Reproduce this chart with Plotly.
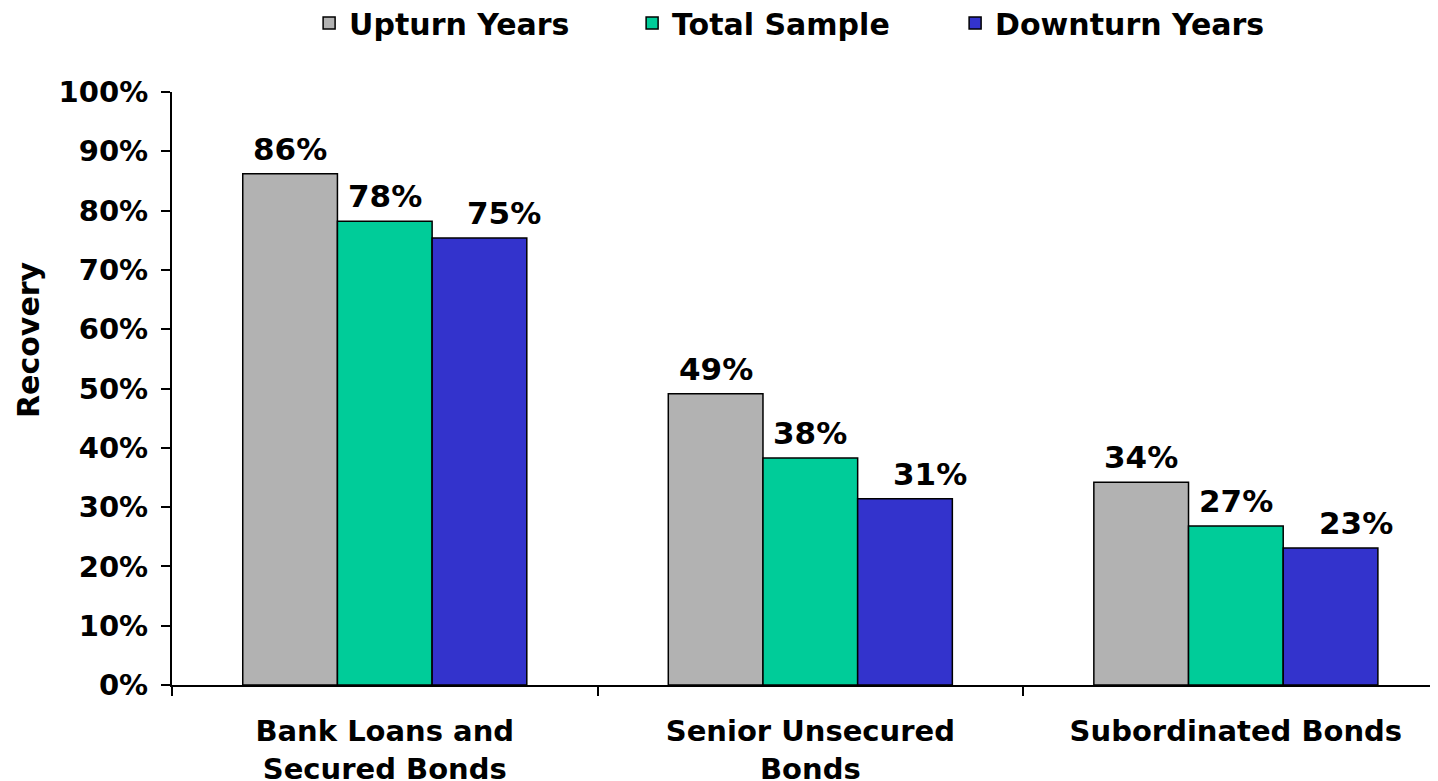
import plotly.graph_objects as go

# data
categories = ["Bank Loans and<br>Secured Bonds", "Senior Unsecured<br>Bonds", "Subordinated Bonds"]
upturn = [0.862, 0.491, 0.342]
total = [0.782, 0.383, 0.268]
downturn = [0.754, 0.314, 0.231]
series_names = ["Upturn Years", "Total Sample", "Downturn Years"]
y_ticks = [0, 0.1, 0.2, 0.3, 0.4, 0.5, 0.6, 0.7, 0.8, 0.9, 1.0]
y_ticklabels = ["0%", "10%", "20%", "30%", "40%", "50%", "60%", "70%", "80%", "90%", "100%"]

colors = ["#B2B2B2", "#00CC99", "#3333CC"]
font_family = "DejaVu Sans"

bargap = 0.3325
bar_w = (1 - bargap) / 3

# page body has an 8px margin, so the figure is drawn 8px in from the corner
W, H = 1430, 773
ml, mt, mb = 164, 84, 96
plot_h = H - mt - mb

fig = go.Figure()
for name, vals, col in zip(series_names, [upturn, total, downturn], colors):
    fig.add_trace(go.Bar(
        x=categories, y=vals, name=f"<b>{name}</b>",
        marker=dict(color=col, line=dict(color="black", width=1.5)),
        hoverinfo="skip",
    ))

# value labels (downturn labels sit a bit to the right, as in the original)
for i, vals in enumerate([upturn, total, downturn]):
    offset = (i - 1) * bar_w
    xshift = 25 if i == 2 else 0
    for j, v in enumerate(vals):
        fig.add_annotation(
            x=j + offset, y=v, xref="x", yref="y",
            text=f"<b>{round(v * 100)}%</b>", showarrow=False,
            yanchor="middle", yshift=25, xshift=xshift,
            font=dict(family=font_family, size=31, color="black"),
        )

fig.add_annotation(
    xref="paper", yref="paper",
    x=(20 - ml) / (W - ml), y=(677 - 332) / plot_h,
    xanchor="center", yanchor="middle",
    text="<b>Recovery</b>", showarrow=False, textangle=-90,
    font=dict(family=font_family, size=30, color="black"),
)

fig.update_layout(
    width=W, height=H,
    template="simple_white",
    plot_bgcolor="white", paper_bgcolor="white",
    barmode="group", bargap=bargap, bargroupgap=0,
    margin=dict(l=ml, r=0, t=mt, b=mb, autoexpand=False),
    font=dict(family=font_family, color="black"),
    legend=dict(
        orientation="h", x=0.491, xanchor="center",
        y=1 - 15 / H, yanchor="middle",
        xref="paper", yref="container",
        font=dict(family=font_family, size=30, color="black"),
        entrywidth=278, entrywidthmode="pixels",
    ),
    showlegend=True,
)

fig.update_xaxes(
    type="category", range=[-0.5, 2.475],
    showline=True, linecolor="black", linewidth=2,
    ticks="outside", ticklen=9, tickwidth=1.5, tickcolor="black",
    tickson="boundaries", showgrid=False,
    tickfont=dict(family=font_family, size=29, color="black"),
    ticklabelstandoff=19,
)
fig.update_xaxes(ticktext=[f"<b>{c}</b>" for c in categories], tickvals=categories)

fig.update_yaxes(
    range=[0, 1], tickvals=y_ticks, ticktext=[f"<b>{t}</b>" for t in y_ticklabels],
    showline=True, linecolor="black", linewidth=2,
    ticks="outside", ticklen=9, tickwidth=1.5, tickcolor="black",
    showgrid=False, zeroline=False,
    tickfont=dict(family=font_family, size=29, color="black"),
    ticklabelstandoff=7,
)

fig.write_html("out.html")
